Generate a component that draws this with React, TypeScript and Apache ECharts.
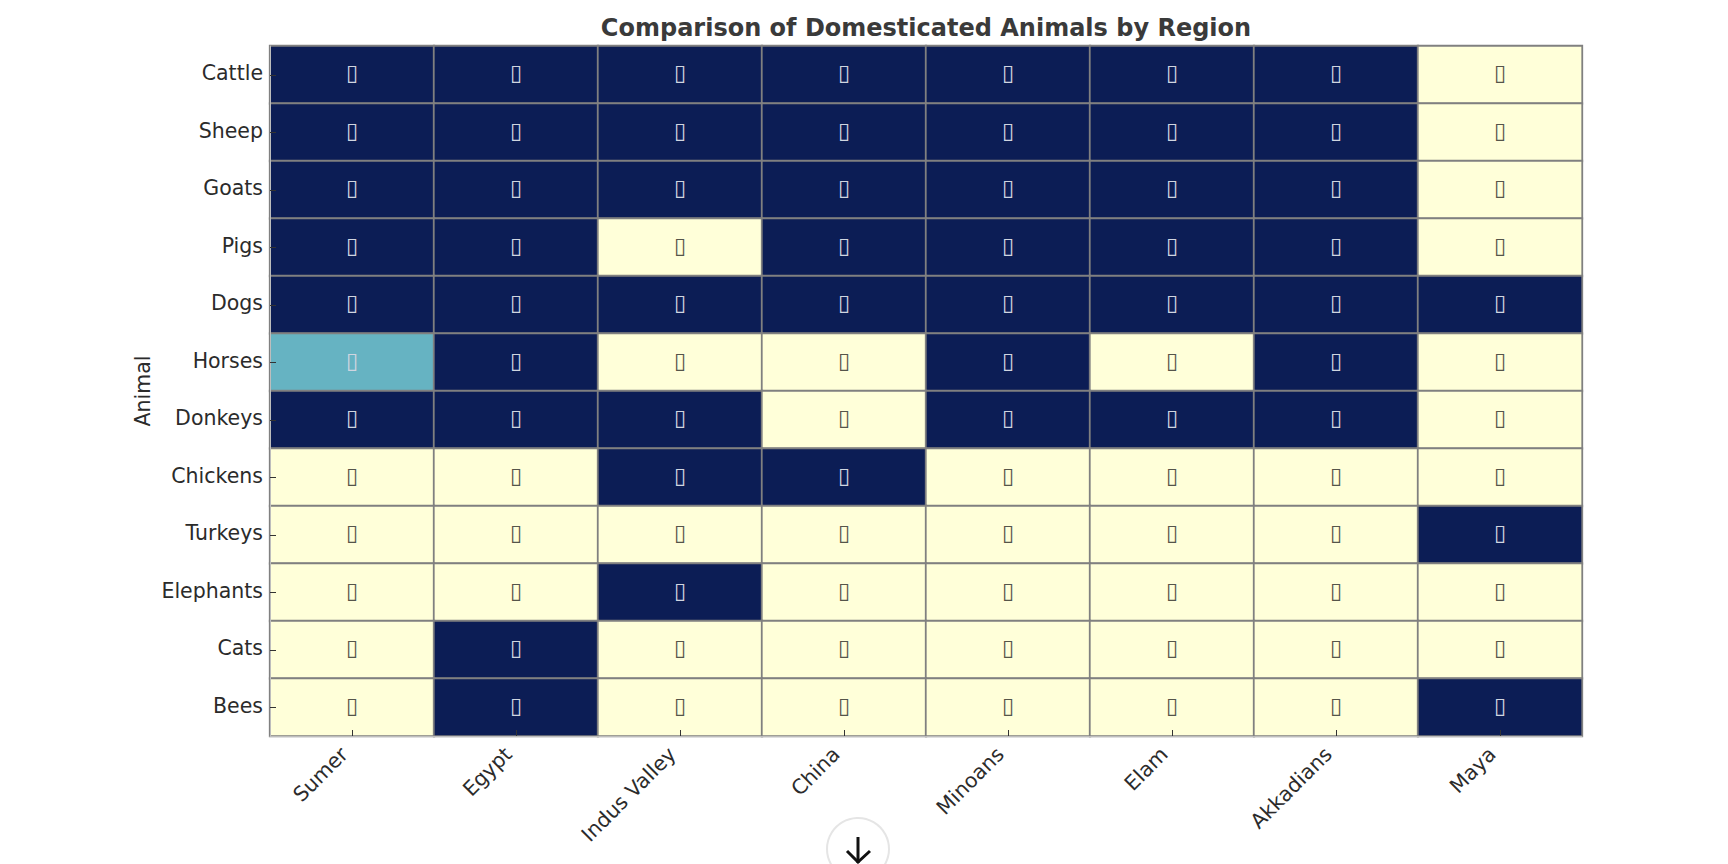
import React, { useEffect, useRef } from "react";
import * as echarts from "echarts";

const regions = ["Sumer", "Egypt", "Indus Valley", "China", "Minoans", "Elam", "Akkadians", "Maya"];
const animals = ["Cattle", "Sheep", "Goats", "Pigs", "Dogs", "Horses", "Donkeys", "Chickens", "Turkeys", "Elephants", "Cats", "Bees"];
const cattle = [1, 1, 1, 1, 1, 1, 1, 0];
const sheep = [1, 1, 1, 1, 1, 1, 1, 0];
const goats = [1, 1, 1, 1, 1, 1, 1, 0];
const pigs = [1, 1, 0, 1, 1, 1, 1, 0];
const dogs = [1, 1, 1, 1, 1, 1, 1, 1];
const horses = [0.5, 1, 0, 0, 1, 0, 1, 0];
const donkeys = [1, 1, 1, 0, 1, 1, 1, 0];
const chickens = [0, 0, 1, 1, 0, 0, 0, 0];
const turkeys = [0, 0, 0, 0, 0, 0, 0, 1];
const elephants = [0, 0, 1, 0, 0, 0, 0, 0];
const cats = [0, 1, 0, 0, 0, 0, 0, 0];
const bees = [0, 1, 0, 0, 0, 0, 0, 1];
const rows = [cattle, sheep, goats, pigs, dogs, horses, donkeys, chickens, turkeys, elephants, cats, bees];
const cellGlyph = "\u25AF";

const FONT = "DejaVu Sans";

export default function App() {
  const ref = useRef<HTMLDivElement>(null);
  useEffect(() => {
    document.body.style.margin = "0";
    const chart = echarts.init(ref.current!, undefined, { renderer: "svg" });
    const data = rows.flatMap((row, y) =>
      row.map((v, x) => ({
        value: [x, y, v],
        label: { color: v === 0 ? "#55554a" : "#d0d5e0" },
      }))
    );
    chart.setOption({
      animation: false,
      backgroundColor: "#ffffff",
      title: {
        text: "Comparison of Domesticated Animals by Region",
        left: 921,
        top: 11,
        textAlign: "center",
        textStyle: { fontFamily: FONT, fontSize: 24, fontWeight: "bold", color: "#3a3a3a" },
      },
      grid: { left: 270, top: 46, width: 1312, height: 690, containLabel: false, show: false },
      xAxis: {
        type: "category",
        data: regions,
        z: 5,
        axisLine: { show: true, lineStyle: { color: "#bdbdbd", width: 1 } },
        axisTick: { show: true, alignWithLabel: true, inside: true, length: 6, lineStyle: { color: "#333333", width: 1 } },
        axisLabel: { rotate: 45, fontFamily: FONT, fontSize: 20.5, color: "#2b2b2b", margin: 7, padding: [0, 11, 0, 0], interval: 0 },
      },
      yAxis: {
        type: "category",
        data: animals,
        inverse: true,
        z: 5,
        name: "Animal",
        nameLocation: "middle",
        nameGap: 117,
        nameMoveOverlap: false,
        nameTextStyle: { fontFamily: FONT, fontSize: 20.5, color: "#2b2b2b" },
        axisLine: { show: true, lineStyle: { color: "#bdbdbd", width: 1 } },
        axisTick: { show: true, alignWithLabel: true, inside: true, length: 6, lineStyle: { color: "#333333", width: 1 } },
        axisLabel: { fontFamily: FONT, fontSize: 20.5, color: "#2b2b2b", margin: 7, verticalAlign: "bottom", lineHeight: 3, interval: 0 },
      },
      visualMap: {
        show: false,
        type: "piecewise",
        dimension: 2,
        seriesIndex: 0,
        pieces: [
          { value: 0, color: "#ffffd9" },
          { value: 0.5, color: "#66b3c2" },
          { value: 1, color: "#0c1d55" },
        ],
      },
      series: [
        {
          type: "heatmap",
          z: 2,
          data,
          itemStyle: { borderColor: "#808080", borderWidth: 1.8 },
          emphasis: { disabled: true },
          label: { show: true, formatter: () => cellGlyph, fontFamily: FONT, fontSize: 22, offset: [0, -2] },
        },
      ],
      graphic: [
        {
          type: "group",
          z: 100,
          children: [
            { type: "circle", shape: { cx: 858, cy: 849, r: 31 }, style: { fill: "#ffffff", stroke: "#e5e5e5", lineWidth: 2 } },
            { type: "line", shape: { x1: 858, y1: 837, x2: 858, y2: 863 }, style: { stroke: "#111111", lineWidth: 3 } },
            { type: "polyline", shape: { points: [[847, 851], [858, 862], [870, 851]] }, style: { stroke: "#111111", lineWidth: 3, fill: "none" } },
          ],
        },
      ],
    });
    return () => chart.dispose();
  }, []);
  return <div ref={ref} style={{ position: "fixed", left: 0, top: 0, width: 1728, height: 864 }} />;
}
